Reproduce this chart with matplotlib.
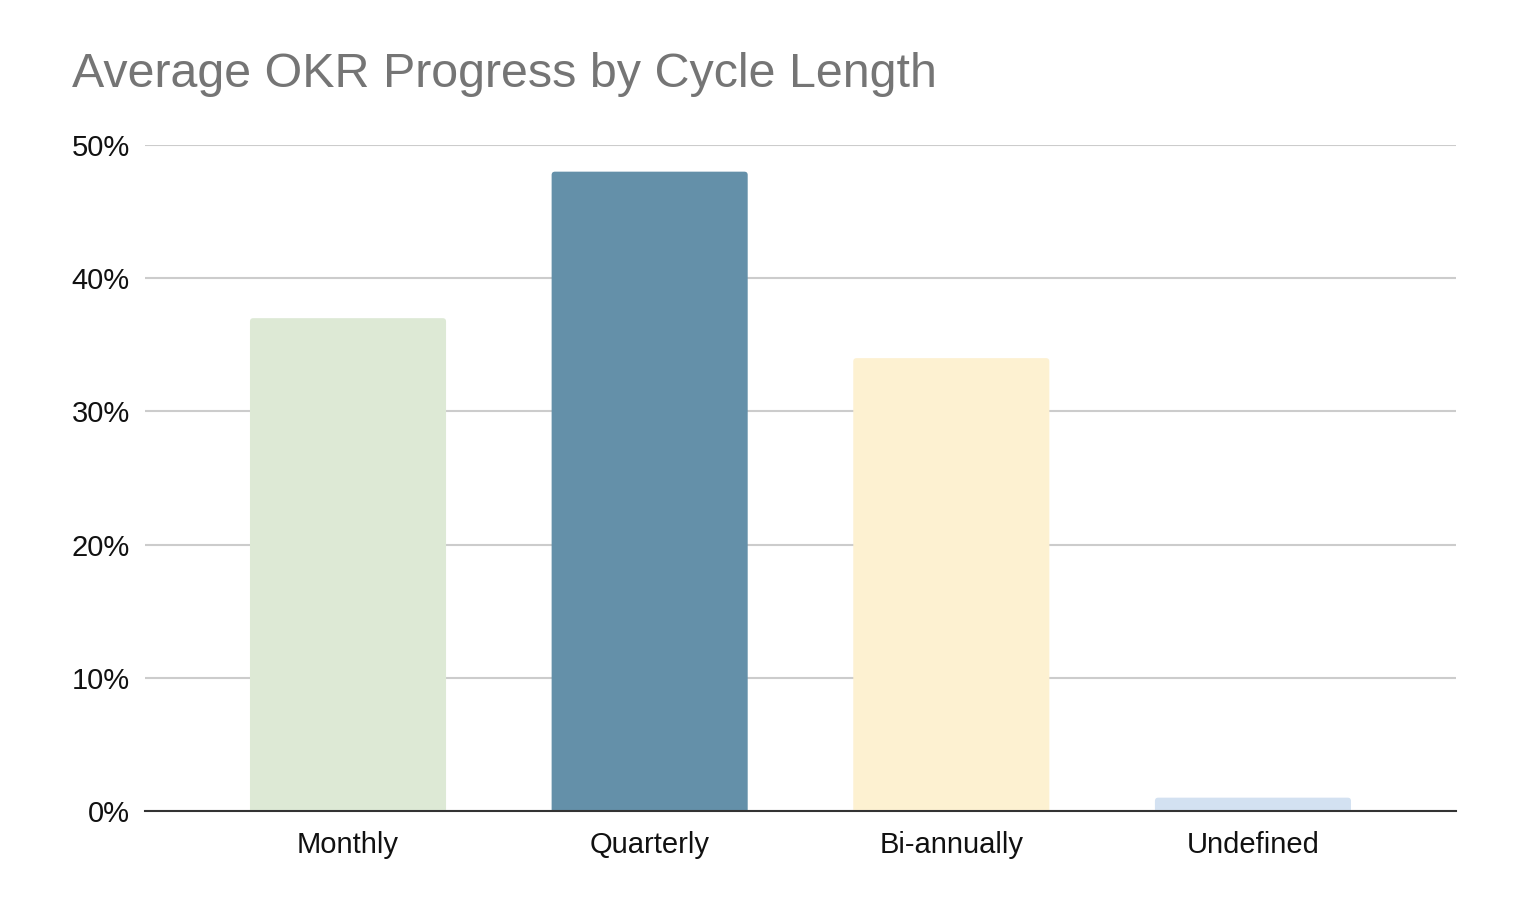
import matplotlib
matplotlib.use("Agg")
import matplotlib.pyplot as plt
import matplotlib.ticker as ticker
from matplotlib.patches import FancyBboxPatch

categories = ["Monthly", "Quarterly", "Bi-annually", "Undefined"]
progress = [0.37, 0.48, 0.34, 0.01]
colors = ["#dde9d5", "#6490a9", "#fdf1d1", "#d3e1f1"]
y_ticks = [0, 0.1, 0.2, 0.3, 0.4, 0.5]


def main():
    plt.rcParams['font.family'] = ['Liberation Sans', 'DejaVu Sans']
    fig = plt.figure(figsize=(15.36, 8.98), dpi=100)
    ax = fig.add_axes([0.0944, 0.0969, 0.8535, 0.7416])

    x = range(len(categories))
    bars = ax.bar(x, progress, width=0.65, color=colors, zorder=3)

    # rounded top corners like the sheets chart
    for rect, c in zip(bars, colors):
        rect.set_visible(False)
        pad = 0.006
        patch = FancyBboxPatch((rect.get_x(), rect.get_y() - pad),
                               rect.get_width(), rect.get_height() + pad,
                               boxstyle="round,pad=0,rounding_size=0.011",
                               mutation_aspect=0.226,
                               facecolor=c, edgecolor='none', zorder=3)
        ax.add_patch(patch)

    ax.set_xlim(-0.673, 3.673)
    ax.set_ylim(0, 0.5)
    ax.set_yticks(y_ticks)
    ax.yaxis.set_major_formatter(ticker.FuncFormatter(lambda v, p: f"{int(round(v * 100))}%"))
    ax.set_xticks(list(x))
    ax.set_xticklabels(categories)

    ax.grid(axis='y', color='#cccccc', linewidth=1.5, zorder=0)
    for side in ['top', 'right', 'left']:
        ax.spines[side].set_visible(False)
    ax.spines['bottom'].set_color('#333333')
    ax.spines['bottom'].set_linewidth(1.5)
    ax.spines['bottom'].set_zorder(4)
    ax.tick_params(axis='both', length=0, labelsize=21, labelcolor='#111111')
    ax.tick_params(axis='y', pad=11)
    ax.tick_params(axis='x', pad=14.5)

    fig.text(0.047, 0.903, "Average OKR Progress by Cycle Length",
             fontsize=34.8, color='#757575', ha='left', va='baseline')

    fig.savefig("out.png", dpi=100)


if __name__ == "__main__":
    main()
